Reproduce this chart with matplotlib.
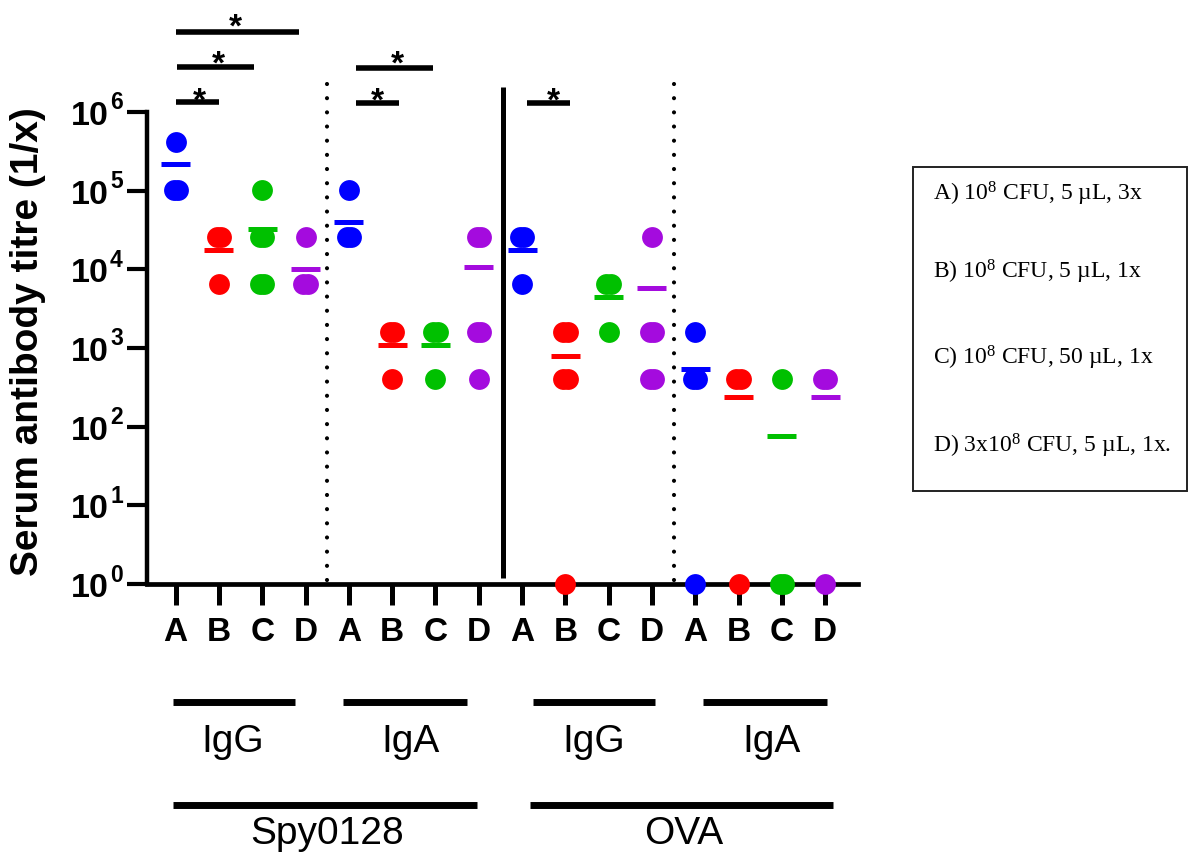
import numpy as np
import matplotlib
matplotlib.use("Agg")
import matplotlib.pyplot as plt
from matplotlib.patches import Rectangle
from matplotlib.transforms import blended_transform_factory

# ---------------- data ----------------
letters = ["A", "B", "C", "D"] * 4
group_colors = ["#0000FF", "#FF0000", "#00C000", "#A40BDE"]

# titres (1/x) per group, order: Spy0128 IgG A-D, Spy0128 IgA A-D, OVA IgG A-D, OVA IgA A-D
spy_igg = [[409600, 102400, 102400], [25600, 25600, 6400], [102400, 25600, 25600, 6400, 6400], [25600, 6400, 6400]]
spy_iga = [[102400, 25600, 25600], [1600, 1600, 400], [1600, 1600, 400], [25600, 25600, 1600, 1600, 400]]
ova_igg = [[25600, 25600, 6400], [1600, 1600, 400, 400, 1], [6400, 6400, 1600], [25600, 1600, 1600, 400, 400]]
ova_iga = [[1600, 400, 400, 1], [400, 400, 1], [400, 1, 1], [400, 400, 1]]

spy_igg_mean = [217000, 17400, 32400, 10000]
spy_iga_mean = [39400, 1080, 1080, 10600]
ova_igg_mean = [17400, 782, 4400, 5720]
ova_iga_mean = [535, 236, 77, 236]

ytick_exp = [0, 1, 2, 3, 4, 5, 6]

legend_lines = ["A) 10$^{8}$ CFU, 5 µL, 3x",
                "B) 10$^{8}$ CFU, 5 µL, 1x",
                "C) 10$^{8}$ CFU, 50 µL, 1x",
                "D) 3x10$^{8}$ CFU, 5 µL, 1x."]

sub_labels = ["IgG", "IgA", "IgG", "IgA"]
main_labels = ["Spy0128", "OVA"]

# significance bars: (x start, x end, log10 level)
sig_bars = [(0.0, 1.0, 6.12), (0.03, 1.81, 6.57), (0.0, 2.85, 7.01),
            (4.16, 5.16, 6.11), (4.16, 5.94, 6.56), (8.11, 9.10, 6.11)]
# asterisks: (x, log10 of ink centre)
stars = [(0.54, 6.26), (0.98, 6.73), (1.39, 7.19), (4.65, 6.26), (5.13, 6.73), (8.72, 6.25)]

# ---------------- style ----------------
plt.rcParams['font.family'] = ['Liberation Sans', 'DejaVu Sans']
plt.rcParams['mathtext.fontset'] = 'custom'
plt.rcParams['mathtext.rm'] = 'Liberation Serif'
plt.rcParams['mathtext.it'] = 'Liberation Serif:italic'
plt.rcParams['mathtext.bf'] = 'Liberation Serif:bold'

W, H = 1191, 852
fig = plt.figure(figsize=(W / 100, H / 100), dpi=100)
PT = 72 / 100  # points per pixel

def fx(px):
    return px / W

def fy(py):
    return 1 - py / H

ax_left, ax_right, ax_bottom, ax_top = 147, 858, 584, 5.6
ax = fig.add_axes([fx(ax_left), fy(ax_bottom), fx(ax_right - ax_left), (ax_bottom - ax_top) / H])
ax.set_yscale('log')
ax.set_ylim(1, 10 ** 7.35)
ax.set_xlim(-0.663, 15.76)

for s in ['top', 'right']:
    ax.spines[s].set_visible(False)
ax.spines['left'].set_bounds(1, 1e6)
ax.spines['left'].set_linewidth(3.2)
ax.spines['bottom'].set_linewidth(3.4)

ax.set_yticks([10.0 ** e for e in ytick_exp])
ax.set_yticklabels([])
ax.yaxis.set_minor_locator(matplotlib.ticker.NullLocator())
ax.tick_params(axis='y', length=14.4, width=3.0)
for e in ytick_exp:
    ax.annotate('10', xy=(0, 10.0 ** e), xycoords=('axes fraction', 'data'),
                xytext=(-38 * PT, -13 * PT), textcoords='offset points',
                ha='right', va='baseline', fontsize=24.5, fontweight='bold', annotation_clip=False)
    ax.annotate(str(e), xy=(0, 10.0 ** e), xycoords=('axes fraction', 'data'),
                xytext=(-37 * PT, 2.5 * PT), textcoords='offset points',
                ha='left', va='baseline', fontsize=16.5, fontweight='bold', annotation_clip=False)

xs = np.arange(16)
ax.set_xticks(xs)
ax.set_xticklabels(letters, fontsize=24, fontweight='bold')
ax.tick_params(axis='x', length=15, width=3.6, pad=9)

all_groups = spy_igg + spy_iga + ova_igg + ova_iga
all_means = spy_igg_mean + spy_iga_mean + ova_igg_mean + ova_iga_mean

for i, vals in enumerate(all_groups):
    c = group_colors[i % 4]
    uniq = []
    for v in vals:
        if v not in uniq:
            uniq.append(v)
    for v in uniq:
        n = vals.count(v)
        offs = (np.arange(n) - (n - 1) / 2) * 0.1
        ax.plot(i + offs, [v] * n, 'o', ms=15, mew=0, color=c, clip_on=False, zorder=5)
    m = all_means[i]
    ax.plot([i - 0.335, i + 0.335], [m, m], color=c, lw=3.6, solid_capstyle='butt', zorder=6)

# dividers
for xd in [3.5, 11.5]:
    ax.plot([xd, xd], [10 ** 0.05, 10 ** 6.40], color='black', lw=3.0,
            linestyle=(0, (0.001, 3.4)), dash_capstyle='round', clip_on=False, zorder=2)
ax.plot([7.57, 7.57], [10 ** 0.076, 10 ** 6.315], color='black', lw=3.6, solid_capstyle='butt', zorder=2)

# significance bars
for x0, x1, lv in sig_bars:
    ax.plot([x0, x1], [10 ** lv, 10 ** lv], color='black', lw=4.0, solid_capstyle='butt', clip_on=False)
for sx, sl in stars:
    ax.annotate('*', xy=(sx, 10 ** sl), xytext=(0, -13.5), textcoords='offset points',
                ha='center', va='baseline', fontsize=24, fontweight='bold', annotation_clip=False)

# group bars below axis
bt = blended_transform_factory(ax.transData, fig.transFigure)
sub_bars = [(-0.06, 2.75), (3.86, 6.73), (8.25, 11.07), (12.18, 15.05)]
main_bars = [(-0.06, 6.96), (8.18, 15.18)]
sub_text_x = [1.315, 5.429, 9.657, 13.772]
main_text_x = [3.49, 11.74]
for (x0, x1) in sub_bars:
    ax.plot([x0, x1], [fy(702), fy(702)], transform=bt, color='black', lw=5.0,
            solid_capstyle='butt', clip_on=False)
for (x0, x1) in main_bars:
    ax.plot([x0, x1], [fy(805), fy(805)], transform=bt, color='black', lw=5.0,
            solid_capstyle='butt', clip_on=False)
for tx, lab in zip(sub_text_x, sub_labels):
    ax.text(tx, fy(752), lab, transform=bt, ha='center', va='baseline', fontsize=28)
for tx, lab in zip(main_text_x, main_labels):
    ax.text(tx, fy(844), lab, transform=bt, ha='center', va='baseline', fontsize=28)

# y label
fig.text(fx(28), fy(342), 'Serum antibody titre (1/x)', rotation=90, fontsize=28,
         fontweight='bold', ha='center', va='center')

# legend box
fig.patches.append(Rectangle((fx(913), fy(491)), fx(1187 - 913), (491 - 167) / H,
                             transform=fig.transFigure, fill=False, edgecolor='#222222', lw=1.4))
for yb, t in zip([200, 278, 365, 453], legend_lines):
    fig.text(fx(933), fy(yb), t, family='Liberation Serif', fontsize=17, ha='left', va='baseline')

fig.savefig('out.png', dpi=100)
